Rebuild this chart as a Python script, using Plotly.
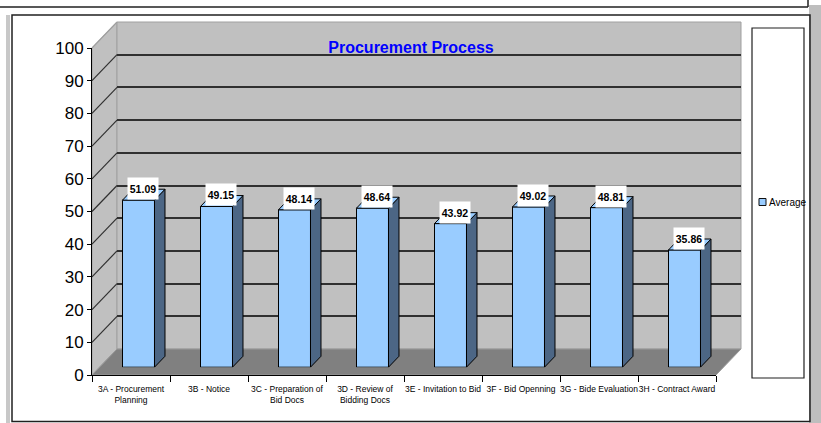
import plotly.graph_objects as go

# ---------------- data ----------------
categories = [
    "3A - Procurement<br>Planning",
    "3B - Notice",
    "3C - Preparation of<br>Bid Docs",
    "3D - Review of<br>Bidding Docs",
    "3E - Invitation to Bid",
    "3F - Bid Openning",
    "3G - Bide Evaluation",
    "3H - Contract Award",
]
average = [51.09, 49.15, 48.14, 48.64, 43.92, 49.02, 48.81, 35.86]
y_tick_values = [0, 10, 20, 30, 40, 50, 60, 70, 80, 90, 100]
series_name = "Average"
chart_title = "Procurement Process"

# ---------------- geometry (pixels) ----------------
W, H = 821, 423
FX0, FX1 = 92, 716      # front plane x extent
FY0, FY1 = 375, 48      # front plane y of value 0 / 100
DX, DY = 25, 26         # full depth offset (right, up)
BAR_FRONT, BAR_BACK = 0.3, 0.72
BAR_WIDTH = 0.41

FONT = "Liberation Sans, Arial, sans-serif"

BLUE = "#99CCFF"
SIDE = "#4C6685"
WALL = "#C0C0C0"
FLOOR = "#808080"
GRID = "#303030"


def fx(x):
    return x / W


def fy(y):
    return 1 - y / H


n = len(categories)
positions = list(range(n))
px_per_x = (FX1 - FX0) / n
px_per_y = (FY0 - FY1) / (y_tick_values[-1] - y_tick_values[0])


def dom(frac):
    return ([fx(FX0 + DX * frac), fx(FX1 + DX * frac)],
            [fy(FY0 - DY * frac), fy(FY1 - DY * frac)])


back_x, back_y = dom(1)
bar_x, bar_y = dom(BAR_FRONT)
front_x, front_y = dom(0)


def front_py(v):
    return FY0 - (v - y_tick_values[0]) * px_per_y


fig = go.Figure()

# back-wall subplot (gridlines)
fig.add_trace(go.Scatter(x=positions, y=average, mode="none", xaxis="x", yaxis="y",
                         showlegend=False, hoverinfo="skip"))
# bars
fig.add_trace(go.Bar(x=positions, y=average, name=series_name, xaxis="x2", yaxis="y2",
                     width=BAR_WIDTH, showlegend=False, hoverinfo="skip",
                     marker=dict(color=BLUE, line=dict(color="black", width=1))))
# front axes
fig.add_trace(go.Scatter(x=categories, y=average, mode="none", xaxis="x3", yaxis="y3",
                         showlegend=False, hoverinfo="skip"))

shapes = []


def poly(pts, fill, line, lw=1, layer="below"):
    path = "M " + " L ".join(f"{fx(a):.5f},{fy(b):.5f}" for a, b in pts) + " Z"
    return dict(type="path", xref="paper", yref="paper", path=path, fillcolor=fill,
                line=dict(color=line, width=lw), layer=layer)


def seg(x0, y0, x1, y1, color, lw=1, layer="below"):
    return dict(type="line", xref="paper", yref="paper", x0=fx(x0), y0=fy(y0),
                x1=fx(x1), y1=fy(y1), line=dict(color=color, width=lw), layer=layer)


# outer window frame
shapes.append(poly([(809, 5), (821, 5), (821, 423), (809, 423)], "#BEBEBE", "#BEBEBE", 0))
shapes.append(poly([(6, 15), (10, 15), (10, 423), (6, 423)], "#C8C8C8", "#C8C8C8", 0))
shapes.append(seg(0, 7, 808, 7, "#202020", 1.5))
shapes.append(seg(808, 0, 808, 7, "#202020", 1.5))
shapes.append(poly([(12, 15), (810, 15), (810, 421.5), (12, 421.5)], "rgba(0,0,0,0)", "#202020", 1.5))

# walls and floor
shapes.append(poly([(FX0, FY0), (FX0, FY1), (FX0 + DX, FY1 - DY), (FX0 + DX, FY0 - DY)],
                   WALL, "#A0A0A0", 1))
shapes.append(poly([(FX0 + DX, FY1 - DY), (FX1 + DX, FY1 - DY), (FX1 + DX, FY0 - DY),
                    (FX0 + DX, FY0 - DY)], WALL, "#A0A0A0", 1))
shapes.append(poly([(FX0, FY0), (FX1, FY0), (FX1 + DX, FY0 - DY), (FX0 + DX, FY0 - DY)],
                   FLOOR, "#9A9A9A", 1))
# side-wall gridline diagonals
for v in y_tick_values[1:]:
    col = GRID if v < y_tick_values[-1] else "#A0A0A0"
    shapes.append(seg(FX0, front_py(v), FX0 + DX, front_py(v) - DY, col, 1.2))

# legend box
shapes.append(poly([(752, 28), (804, 28), (804, 378), (752, 378)], "white", "#202020", 1.2))
shapes.append(poly([(759, 198.5), (766, 198.5), (766, 205.5), (759, 205.5)], BLUE, "#101010", 1,
                   layer="above"))

# bar side and top faces (in bar-plane data units)
ddx = (BAR_BACK - BAR_FRONT) * DX / px_per_x
ddy = (BAR_BACK - BAR_FRONT) * DY / px_per_y
for p, v in zip(positions, average):
    xl = p - BAR_WIDTH / 2
    xr = p + BAR_WIDTH / 2
    side = f"M {xr},0 L {xr + ddx},{ddy} L {xr + ddx},{v + ddy} L {xr},{v} Z"
    top = f"M {xl},{v} L {xr},{v} L {xr + ddx},{v + ddy} L {xl + ddx},{v + ddy} Z"
    shapes.append(dict(type="path", xref="x2", yref="y2", path=side, fillcolor=SIDE,
                       line=dict(color="black", width=1), layer="above"))
    shapes.append(dict(type="path", xref="x2", yref="y2", path=top, fillcolor=BLUE,
                       line=dict(color="black", width=1), layer="above"))

annotations = []
for p, v in zip(positions, average):
    annotations.append(dict(
        x=p + 4 / px_per_x, y=v, xref="x2", yref="y2", xanchor="center", yanchor="bottom",
        text=f"<b>{v:.2f}</b>", showarrow=False, bgcolor="white", borderpad=0,
        width=30, height=21, font=dict(family=FONT, size=10.5, color="black")))
annotations.append(dict(x=fx(767), y=fy(202), xref="paper", yref="paper", xanchor="left",
                        yanchor="middle", text=series_name, showarrow=False,
                        font=dict(family=FONT, size=10, color="black")))

fig.update_layout(
    template="none",
    width=W, height=H, autosize=False,
    margin=dict(l=0, r=0, t=0, b=0, pad=0, autoexpand=False),
    paper_bgcolor="white", plot_bgcolor="rgba(0,0,0,0)",
    showlegend=False,
    title=dict(text=f"<b>{chart_title}</b>", x=fx(411), y=fy(47), xanchor="center",
               yanchor="middle", xref="paper", yref="paper", automargin=False,
               font=dict(family=FONT, size=16, color="#0000FF")),
    xaxis=dict(domain=back_x, range=[-0.5, n - 0.5], visible=False, fixedrange=True,
               automargin=False),
    yaxis=dict(domain=back_y, range=[y_tick_values[0], y_tick_values[-1]], anchor="x",
               tickvals=y_tick_values[1:-1], showticklabels=False, ticks="",
               showgrid=True, gridcolor=GRID, gridwidth=1.5, zeroline=False,
               showline=False, fixedrange=True, automargin=False),
    xaxis2=dict(domain=bar_x, range=[-0.5, n - 0.5], visible=False, anchor="y2",
                fixedrange=True, automargin=False),
    yaxis2=dict(domain=bar_y, range=[y_tick_values[0], y_tick_values[-1]], visible=False,
                anchor="x2", fixedrange=True, automargin=False),
    xaxis3=dict(domain=front_x, type="category", categoryorder="array",
                categoryarray=categories, range=[-0.5, n - 0.5], anchor="y3",
                tickson="boundaries", ticks="outside", ticklen=6, tickcolor="black",
                showline=True, linecolor="black", linewidth=1, showgrid=False,
                zeroline=False, tickangle=0, automargin=False, ticklabelstandoff=6,
                tickfont=dict(family=FONT, size=8.5, color="black"), fixedrange=True),
    yaxis3=dict(domain=front_y, range=[y_tick_values[0], y_tick_values[-1]], anchor="x3",
                tickvals=y_tick_values, ticks="outside", ticklen=4, tickcolor="black",
                showline=True, linecolor="black", linewidth=1, showgrid=False,
                zeroline=False, automargin=False,
                tickfont=dict(family=FONT, size=17, color="black"),
                fixedrange=True),
    shapes=shapes,
    annotations=annotations,
)

fig.write_html(
    "out.html",
    post_script="document.body.style.margin='0';"
                "document.documentElement.style.overflow='hidden';"
                "document.body.style.overflow='hidden';",
)
